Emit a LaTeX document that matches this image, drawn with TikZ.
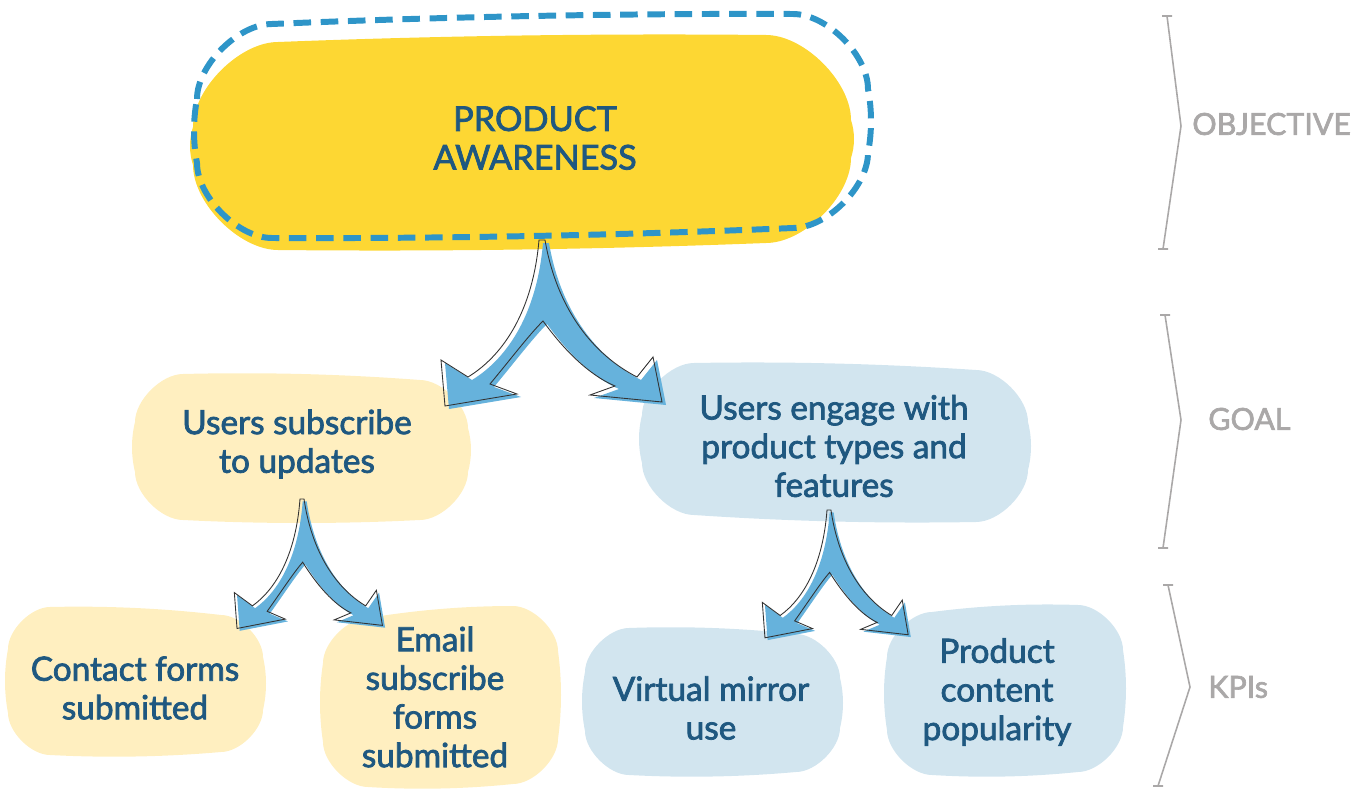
\documentclass[tikz,border=0pt]{standalone}
\usepackage{fontspec}
\setmainfont{Lato}[UprightFeatures={FakeBold=2.2}]
\definecolor{txtblue}{RGB}{31,88,128}
\definecolor{bigyellow}{RGB}{253,215,51}
\definecolor{lightyellow}{RGB}{255,239,192}
\definecolor{lightblue}{RGB}{210,229,239}
\definecolor{dashblue}{RGB}{46,149,200}
\definecolor{arrowblue}{RGB}{102,178,220}
\definecolor{lblgray}{RGB}{170,168,168}
\tikzset{
  txt/.style={align=center, text=txtblue, font=\fontsize{19}{22}\selectfont, inner sep=0pt},
  lbl/.style={anchor=west, text=lblgray, font=\fontsize{17.3}{22}\selectfont, inner sep=0pt},
  brk/.style={draw=lblgray, line width=0.9pt},
  arrfill/.style={fill=arrowblue, draw=none},
  arrline/.style={draw=black!80, line width=0.5pt, fill=none},
  dashline/.style={draw=dashblue, line width=3.4pt, dash pattern=on 10pt off 5.5pt},
}
\def\arrowpath{(0,0) .. controls (-6,70) and (-35,115) .. (-71,137) -- (-98,120) -- (-94,166) -- (-22,154) -- (-49,144) .. controls (-25,115) and (-10,95) .. (4,81) .. controls (25,110) and (50,135) .. (76,146) -- (51,155) -- (123,162) -- (114,117) -- (98,137) .. controls (55,115) and (18,70) .. (6,0) -- cycle}
\newcommand\splitarrow[3]{%
  \begin{scope}[shift={#1}, xscale=#2, yscale=#3]
    \path[arrfill, shift={(4,3)}] \arrowpath;
    \path[arrline] \arrowpath;
  \end{scope}}
% #1 style, #2 xl, #3 xr, #4 y top-left, #5 y top-right, #6 y bottom-left, #7 y bottom-right, #8 radius
\newcommand\blob[8]{%
  \pgfmathsetmacro\bk{0.45*#8}%
  \pgfmathsetmacro\bwx{(#3-#2-2*#8)/3}%
  \pgfmathsetmacro\bhl{(#6-#4-2*#8)/3}%
  \pgfmathsetmacro\bhr{(#7-#5-2*#8)/3}%
  \path[#1] (#2,{#4+#8})
    .. controls (#2,{#4+#8-\bk}) and ({#2+#8-\bk},#4) .. ({#2+#8},#4)
    .. controls ({#2+#8+\bwx},{#4+(#5-#4)/3-4}) and ({#3-#8-\bwx},{#5-(#5-#4)/3-4}) .. ({#3-#8},#5)
    .. controls ({#3-#8+\bk},#5) and (#3,{#5+#8-\bk}) .. (#3,{#5+#8})
    .. controls ({#3+4},{#5+#8+\bhr}) and ({#3+4},{#7-#8-\bhr}) .. (#3,{#7-#8})
    .. controls (#3,{#7-#8+\bk}) and ({#3-#8+\bk},#7) .. ({#3-#8},#7)
    .. controls ({#3-#8-\bwx},{#7+(#6-#7)/3+4}) and ({#2+#8+\bwx},{#6-(#6-#7)/3+4}) .. ({#2+#8},#6)
    .. controls ({#2+#8-\bk},#6) and (#2,{#6-#8+\bk}) .. (#2,{#6-#8})
    .. controls ({#2-4},{#6-#8-\bhl}) and ({#2-4},{#4+#8+\bhl}) .. cycle;}
\begin{document}
\begin{tikzpicture}[x=0.02cm,y=-0.02cm]
\useasboundingbox (0,0) rectangle (1367,794);
% top blob
\blob{fill=bigyellow}{193}{851}{42}{35}{250}{243}{85}
\blob{dashline}{197}{868}{24}{14}{238}{228}{75}
% goal blobs
\blob{fill=lightyellow}{135}{468}{374}{380}{520}{520}{48}
\blob{fill=lightblue}{642}{1028}{363}{370}{515}{522}{52}
% KPI blobs
\blob{fill=lightyellow}{8}{263}{607}{615}{755}{752}{42}
\blob{fill=lightyellow}{323}{558}{618}{606}{787}{784}{45}
\blob{fill=lightblue}{585}{840}{628}{634}{775}{772}{44}
\blob{fill=lightblue}{887}{1123}{612}{605}{775}{772}{45}
% arrows
\splitarrow{(539,240)}{1}{1}
\splitarrow{(300,499)}{0.67}{0.78}
\splitarrow{(827,510)}{0.66}{0.77}
% texts
\node[txt, font=\fontsize{19.5}{22}\selectfont] (obj) at (535,138) {PRODUCT\\AWARENESS};
\node[txt] (g1) at (297,444) {Users subscribe\\to updates};
\node[txt] (g2) at (834,446) {Users engage with\\product types and\\features};
\node[txt] (k1) at (135,688) {Contact forms\\submitted};
\node[txt] (k2) at (435,697) {Email\\subscribe\\forms\\submitted};
\node[txt] (k3) at (711,708) {Virtual mirror\\use};
\node[txt] (k4) at (997,692) {Product\\content\\popularity};
% brackets
\draw[brk] (1162,16) -- (1172,16) (1167,16) -- (1181,126) -- (1163,249) (1158,249) -- (1168,249);
\draw[brk] (1160,315) -- (1170,315) (1165,315) -- (1181,420) -- (1163,548) (1158,548) -- (1168,548);
\draw[brk] (1163,585) -- (1173,585) (1168,585) -- (1190,687) -- (1158,786) (1153,786) -- (1163,786);
\node[lbl] (lo) at (1192,124) {OBJECTIVE};
\node[lbl] (lg) at (1208,419) {GOAL};
\node[lbl] (lk) at (1208,687) {KPIs};
\end{tikzpicture}
\end{document}
